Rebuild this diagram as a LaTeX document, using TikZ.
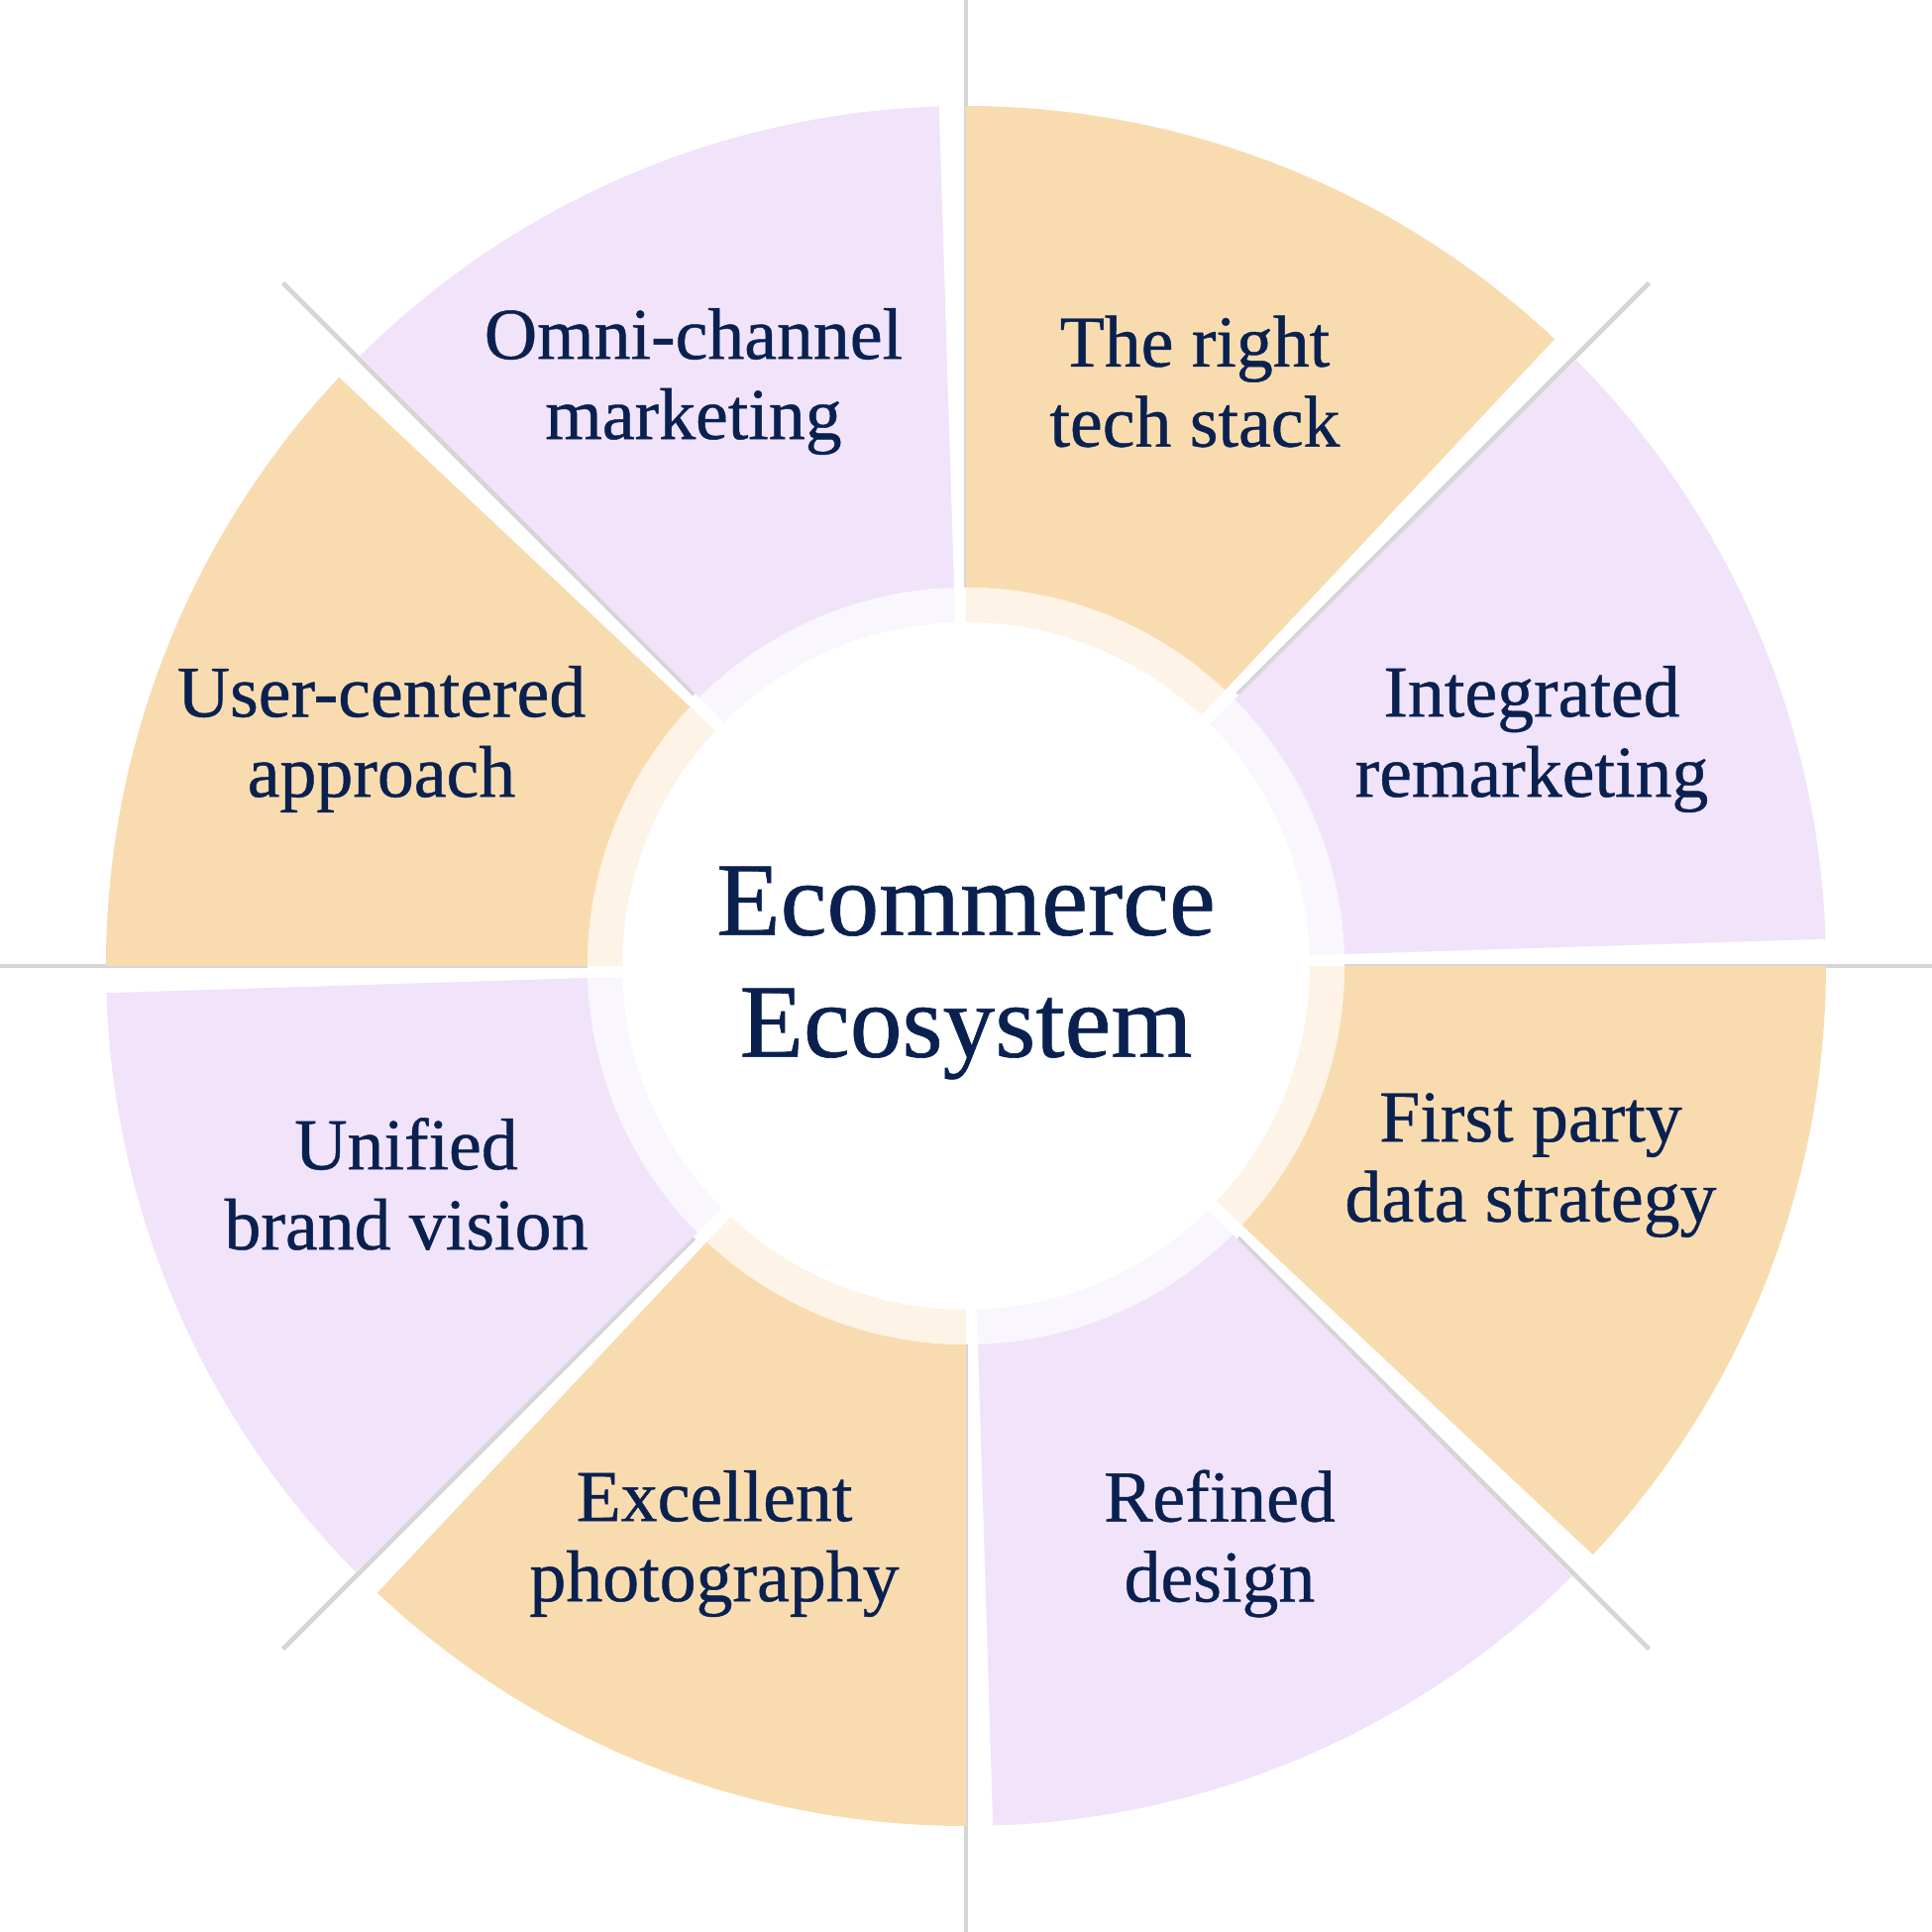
\documentclass[tikz,border=0pt]{standalone}
\usepackage{fontspec}
\setmainfont[FakeBold=0.6]{Liberation Serif}
\usetikzlibrary{calc}
\definecolor{segorange}{HTML}{F8DCB0}
\definecolor{segpurple}{HTML}{F0E3FA}
\definecolor{ringorange}{HTML}{FDF3E6}
\definecolor{ringpurple}{HTML}{F9F6FE}
\definecolor{axisgray}{HTML}{D6D6D6}
\definecolor{navy}{HTML}{0A2150}

% annular piece: start angle, end angle, inner radius, outer radius, colour
\newcommand{\ringpiece}[5]{%
  \fill[#5] ({#1}:#3) -- ({#1}:#4) arc[start angle={#1}, end angle={#2}, radius=#4]
    -- ({#2}:#3) arc[start angle={#2}, end angle={#1}, radius=#3] -- cycle;}

\tikzset{
  label text/.style={text=navy, align=center, font=\fontsize{21}{23}\selectfont},
  title text/.style={text=navy, align=center, font=\fontsize{30}{35}\selectfont},
  axis line/.style={draw=axisgray, line width=1.4pt}
}

\begin{document}
\begin{tikzpicture}
    \useasboundingbox[fill=white] (-9.75,-9.75) rectangle (9.75,9.75);

    % Axis lines
    \draw[axis line] (0,3.82) -- (0,9.75);
    \draw[axis line] (0,-3.82) -- (0,-9.75);
    \draw[axis line] (3.82,0) -- (9.75,0);
    \draw[axis line] (-3.82,0) -- (-9.75,0);
    \foreach \a in {45,135,225,315}
        \draw[axis line] (\a:3.88) -- (\a:9.75);

    % Segments, two per quadrant
    \foreach \A in {0,90,180,270} {
        \ringpiece{\A+1.8}{\A+44.8}{3.82}{8.68}{segpurple}
        \ringpiece{\A+1.8}{\A+44.8}{3.47}{3.82}{ringpurple}
        \ringpiece{\A+46.8}{\A+90}{3.82}{8.68}{segorange}
        \ringpiece{\A+46.8}{\A+90}{3.47}{3.82}{ringorange}
    }

    % Labels
    \node[label text] (omni) at (-2.75,5.90) {Omni-channel\\marketing};
    \node[label text] (tech) at (2.31,5.90) {The right\\tech stack};
    \node[label text] (remarket) at (5.71,2.29) {Integrated\\remarketing};
    \node[label text] (user) at (-5.90,2.29) {User-centered\\approach};
    \node[label text] (brand) at (-5.65,-2.20) {Unified\\brand vision};
    \node[label text] (data) at (5.70,-2.01) {First party\\data strategy};
    \node[label text] (photo) at (-2.54,-5.83) {Excellent\\photography};
    \node[label text] (design) at (2.56,-5.83) {Refined\\design};

    % Centre
    \node[title text] (eco) at (0,-0.07) {Ecommerce\\Ecosystem};
\end{tikzpicture}
\end{document}
